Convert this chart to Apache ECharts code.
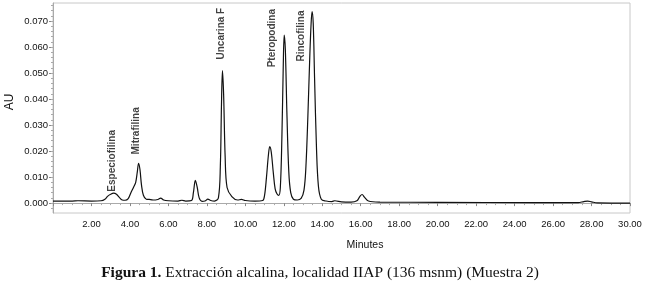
<!DOCTYPE html>
<html>
<head>
<meta charset="utf-8">
<script src="https://cdn.jsdelivr.net/npm/echarts@6/dist/echarts.min.js"></script>
<style>
  html, body { margin: 0; padding: 0; background: #fff; }
  #chart { width: 647px; height: 291px; }
</style>
</head>
<body>
<div id="chart"></div>
<script>
// retention time (min) and absorbance (AU)
const times = [
  0.0, 1.0, 1.3, 2.0, 2.5, 2.7, 2.85, 3.0, 3.15, 3.3, 3.45, 3.6, 3.75, 3.9,
  4.05, 4.2, 4.3, 4.38, 4.45, 4.52, 4.6, 4.7, 4.85, 5.0, 5.2, 5.45, 5.6, 5.75,
  6.0, 6.5, 6.7, 6.9, 7.2, 7.3, 7.4, 7.5, 7.6, 7.75, 7.9, 8.05, 8.2, 8.4, 8.6,
  8.7, 8.76, 8.81, 8.87, 8.95, 9.05, 9.3, 9.6, 9.8, 10.0, 10.5, 10.9, 11.0,
  11.1, 11.2, 11.27, 11.35, 11.45, 11.55, 11.65, 11.74, 11.82, 11.9, 11.97,
  12.02, 12.08, 12.16, 12.26, 12.36, 12.5, 12.7, 12.9, 13.05, 13.15, 13.25,
  13.35, 13.42, 13.47, 13.53, 13.6, 13.7, 13.8, 13.95, 14.2, 14.5, 14.65,
  15.0, 15.5, 15.8, 15.95, 16.07, 16.2, 16.4, 17.0, 20.0, 25.0, 27.3, 27.6,
  27.8, 28.0, 28.3, 30.0
];
const absorbance = [
  0.0008, 0.0008, 0.0009, 0.0008, 0.0009, 0.0015, 0.0027, 0.0034, 0.0038, 0.0034, 0.0022, 0.0012, 0.0011, 0.0016,
  0.0040, 0.0063, 0.0080, 0.0118, 0.0153, 0.0130, 0.0070, 0.0030, 0.0015, 0.0014, 0.0012, 0.0014, 0.0019, 0.0012,
  0.0009, 0.0008, 0.0011, 0.0008, 0.0010, 0.0040, 0.0087, 0.0060, 0.0020, 0.0007, 0.0008, 0.0015, 0.0010, 0.0008, 0.0020,
  0.0140, 0.0380, 0.0509, 0.0420, 0.0180, 0.0060, 0.0025, 0.0012, 0.0014, 0.0010, 0.0008, 0.0010, 0.0030,
  0.0100, 0.0185, 0.0217, 0.0195, 0.0120, 0.0055, 0.0035, 0.0030, 0.0060, 0.0250, 0.0520,
  0.0646, 0.0590, 0.0350, 0.0120, 0.0040, 0.0015, 0.0012, 0.0018, 0.0050, 0.0140, 0.0330,
  0.0560, 0.0690, 0.0736, 0.0690, 0.0480, 0.0210, 0.0065, 0.0015, 0.0008, 0.0006, 0.0009,
  0.0005, 0.0004, 0.0009, 0.0025, 0.0033, 0.0022, 0.0008, 0.0004, 0.0003, 0.0002, 0.0002, 0.0006,
  0.0008, 0.0005, 0.0001, 0.0000
];

// peak annotations: name, time of label, AU where the label text begins
const peakNames = ["Especiofilina", "Mitrafilina", "Uncarina F", "Pteropodina", "Rincofilina"];
const peakTimes = [3.11, 4.36, 8.76, 11.43, 12.92];
const peakLabelAU = [0.0042, 0.0185, 0.0550, 0.0520, 0.0542];

const yTickValues = [0, 0.01, 0.02, 0.03, 0.04, 0.05, 0.06, 0.07];
const yMinorValues = [];
for (let i = -1; i <= 38; i++) yMinorValues.push(+(i * 0.002).toFixed(3));

const chart = echarts.init(document.getElementById("chart"));

const labelStyle = { color: "#111", fontFamily: "Arial, 'Liberation Sans', sans-serif", fontSize: 9.5 };

chart.setOption({
  animation: false,
  grid: {
    left: 53, right: 17, top: 3, bottom: 78,
    show: true, borderColor: "#c8c8c8", borderWidth: 1
  },
  xAxis: {
    type: "value",
    min: 0, max: 30, interval: 2,
    axisLine: { show: true, lineStyle: { color: "#aaa", width: 1 } },
    axisTick: { show: true, length: 3, lineStyle: { color: "#888" } },
    minorTick: { show: true, splitNumber: 4, length: 2, lineStyle: { color: "#aaa" } },
    splitLine: { show: false },
    axisLabel: Object.assign({
      showMinLabel: false, margin: 6,
      formatter: v => v.toFixed(2)
    }, labelStyle)
  },
  yAxis: [
    {
      type: "value",
      min: -0.0038, max: 0.0769,
      axisLine: { show: true, lineStyle: { color: "#aaa", width: 1 } },
      axisTick: { show: true, length: 4, customValues: yTickValues, lineStyle: { color: "#888" } },
      splitLine: { show: false },
      axisLabel: Object.assign({
        customValues: yTickValues, margin: 5,
        formatter: v => v.toFixed(3)
      }, labelStyle)
    },
    {
      type: "value",
      position: "left",
      min: -0.0038, max: 0.0769,
      axisLine: { show: false },
      axisTick: { show: true, length: 2, customValues: yMinorValues, lineStyle: { color: "#aaa" } },
      axisLabel: { show: false },
      splitLine: { show: false }
    }
  ],
  series: [
    {
      type: "line",
      data: times.map((t, i) => [t, absorbance[i]]),
      showSymbol: false,
      smooth: 0.35,
      lineStyle: { color: "#111", width: 1.2 }
    },
    {
      type: "scatter",
      data: peakNames.map((n, i) => ({ name: n, value: [peakTimes[i], peakLabelAU[i]] })),
      symbolSize: 1,
      itemStyle: { color: "rgba(0,0,0,0)" },
      silent: true,
      label: {
        show: true,
        formatter: p => p.name,
        position: [0, 0],
        rotate: 90,
        align: "left",
        verticalAlign: "middle",
        color: "#111",
        fontWeight: "bold",
        fontSize: 10,
        fontFamily: "Arial, 'Liberation Sans', sans-serif"
      }
    }
  ],
  graphic: [
    {
      type: "text", x: 10, y: 102, rotation: Math.PI / 2,
      style: { text: "AU", fill: "#111", font: "12px Arial, 'Liberation Sans', sans-serif", align: "center", verticalAlign: "middle" }
    },
    {
      type: "text", x: 365, y: 245,
      style: { text: "Minutes", fill: "#111", font: "10.5px Arial, 'Liberation Sans', sans-serif", align: "center", verticalAlign: "middle" }
    },
    {
      type: "text", x: 320, y: 273,
      style: {
        text: "{b|Figura 1.} Extracción alcalina, localidad IIAP (136 msnm) (Muestra 2)",
        align: "center", verticalAlign: "middle",
        fill: "#111",
        font: "15.5px 'Liberation Serif', 'Times New Roman', serif",
        rich: { b: { fontWeight: "bold", fontSize: 15.5, fontFamily: "'Liberation Serif', serif", fill: "#111" } }
      }
    }
  ]
});
</script>
</body>
</html>
